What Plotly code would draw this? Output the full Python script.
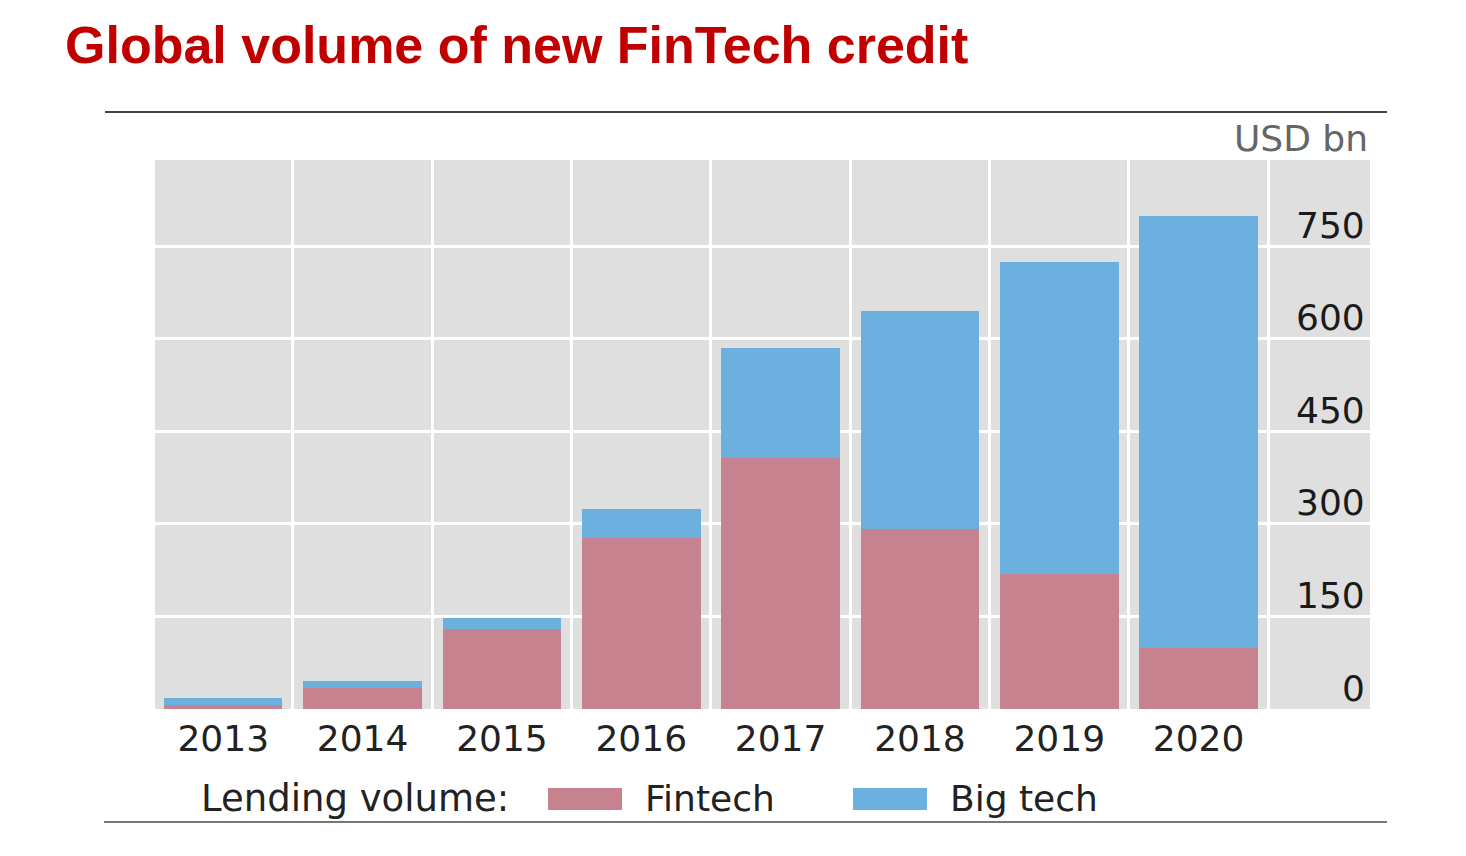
import plotly.graph_objects as go

# ---- data ----
years = ["2013", "2014", "2015", "2016", "2017", "2018", "2019", "2020"]
fintech = [6, 34, 130, 277, 407, 292, 219, 99]
bigtech = [12, 11, 18, 47, 178, 353, 506, 700]
ytick_vals = [0, 150, 300, 450, 600, 750]
ytick_text = ["0", "150", "300", "450", "600", "750"]

# ---- layout geometry (pixels) ----
W, H = 1466, 856
L, R, T, B = 155, 1370, 160, 709


def px2x(px):
    return (px - L) / (R - L)


def px2y(py):
    return (B - py) / (B - T)


FONT = "DejaVu Sans"
FS = 36
PINK = "#c6838f"
BLUE = "#6cb0e0"

xpos = list(range(len(years)))

fig = go.Figure()
fig.add_trace(go.Bar(x=xpos, y=fintech, name="Fintech", marker=dict(color=PINK, line=dict(width=0)), width=0.85))
fig.add_trace(go.Bar(x=xpos, y=bigtech, name="Big tech", marker=dict(color=BLUE, line=dict(width=0)), width=0.85))

fig.update_layout(
    width=W, height=H,
    margin=dict(l=L, r=W - R, t=T, b=H - B),
    plot_bgcolor="#dfdfdf", paper_bgcolor="white",
    barmode="stack", showlegend=False,
    font=dict(family=FONT, color="#222222"),
)
fig.update_xaxes(
    range=[-0.49, 8.23],
    tickmode="array", tickvals=xpos, ticktext=years,
    showgrid=False, zeroline=False, ticks="", showline=False,
    ticklabelstandoff=5,
    tickfont=dict(size=FS, color="#222222", family=FONT),
    minor=dict(tickvals=[i + 0.5 for i in range(len(years))], showgrid=True, gridcolor="white", gridwidth=3, ticks=""),
)
fig.update_yaxes(
    range=[0, 890], side="right",
    tickmode="array", tickvals=ytick_vals, ticktext=ytick_text,
    showticklabels=False,
    showgrid=True, gridcolor="white", gridwidth=3, zeroline=False, ticks="",
)

ann = []
# y-axis labels sit just above their gridlines, inside the plot on the right
for v, t in zip(ytick_vals, ytick_text):
    ann.append(dict(text=t, x=px2x(1367), y=v, xref="paper", yref="y", xanchor="right", yanchor="middle",
                    yshift=21, showarrow=False, font=dict(family=FONT, size=FS, color="#1a1a1a")))
ann.append(dict(text="<b>Global volume of new FinTech credit</b>", x=px2x(63), y=px2y(45), xref="paper", yref="paper",
                xanchor="left", yanchor="middle", showarrow=False,
                font=dict(family="Liberation Sans", size=52, color="#c00000")))
ann.append(dict(text="USD bn", x=1, y=px2y(138), xref="paper", yref="paper", xanchor="right", yanchor="middle",
                showarrow=False, font=dict(family=FONT, size=FS, color="#666666")))
ann.append(dict(text="Lending volume:", x=px2x(199), y=px2y(798), xref="paper", yref="paper", xanchor="left",
                yanchor="middle", showarrow=False, font=dict(family=FONT, size=37, color="#222222")))
ann.append(dict(text="Fintech", x=px2x(643), y=px2y(798), xref="paper", yref="paper", xanchor="left",
                yanchor="middle", showarrow=False, font=dict(family=FONT, size=FS, color="#222222")))
ann.append(dict(text="Big tech", x=px2x(948), y=px2y(798), xref="paper", yref="paper", xanchor="left",
                yanchor="middle", showarrow=False, font=dict(family=FONT, size=FS, color="#222222")))

shapes = []
shapes.append(dict(type="rect", xref="paper", yref="paper", x0=px2x(548), x1=px2x(622), y0=px2y(810), y1=px2y(788),
                   fillcolor=PINK, line=dict(width=0)))
shapes.append(dict(type="rect", xref="paper", yref="paper", x0=px2x(853), x1=px2x(927), y0=px2y(810), y1=px2y(788),
                   fillcolor=BLUE, line=dict(width=0)))
shapes.append(dict(type="line", xref="paper", yref="paper", x0=px2x(105), x1=px2x(1387), y0=px2y(112), y1=px2y(112),
                   line=dict(color="#444444", width=2)))
shapes.append(dict(type="line", xref="paper", yref="paper", x0=px2x(104), x1=px2x(1387), y0=px2y(822), y1=px2y(822),
                   line=dict(color="#777777", width=2)))

fig.update_layout(annotations=ann, shapes=shapes)
fig.write_html("out.html")
